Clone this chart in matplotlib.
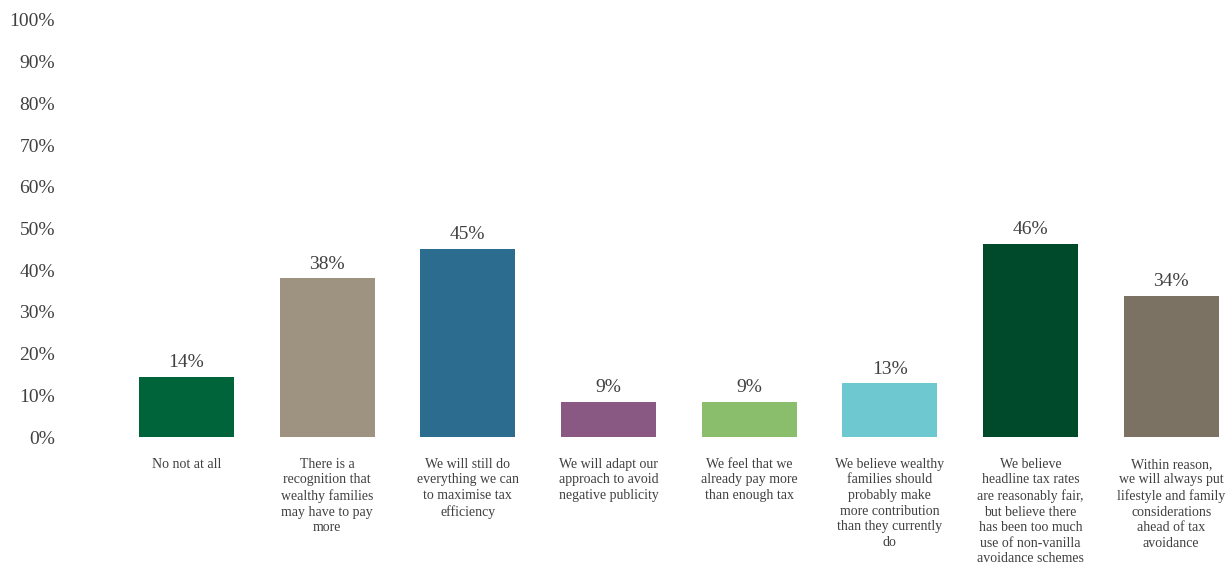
import matplotlib
matplotlib.use("Agg")
import matplotlib.pyplot as plt

categories = [
    "No not at all",
    "There is a\nrecognition that\nwealthy families\nmay have to pay\nmore",
    "We will still do\neverything we can\nto maximise tax\nefficiency",
    "We will adapt our\napproach to avoid\nnegative publicity",
    "We feel that we\nalready pay more\nthan enough tax",
    "We believe wealthy\nfamilies should\nprobably make\nmore contribution\nthan they currently\ndo",
    "We believe\nheadline tax rates\nare reasonably fair,\nbut believe there\nhas been too much\nuse of non-vanilla\navoidance schemes",
    "Within reason,\nwe will always put\nlifestyle and family\nconsiderations\nahead of tax\navoidance",
]
values = [14.4, 38.1, 45.1, 8.4, 8.4, 12.9, 46.3, 33.8]
value_labels = ["14%", "38%", "45%", "9%", "9%", "13%", "46%", "34%"]
colors = ["#00643A", "#9E9380", "#2C6C8E", "#895883", "#8ABD6C", "#6EC8D0", "#004A2C", "#7B7264"]
yticks = list(range(0, 101, 10))
ytick_labels = [f"{t}%" for t in yticks]

font = "Liberation Serif"
tc = "#404040"

fig = plt.figure(figsize=(12.3, 5.64), dpi=100)
ax = fig.add_axes([116/1230, 1 - 437/564, (1230 - 116)/1230, (437 - 20)/564])

x = list(range(len(values)))
ax.bar(x, values, width=0.675, color=colors)
for xi, v, lab in zip(x, values, value_labels):
    ax.annotate(lab, (xi, v), xytext=(0, 4), textcoords="offset points",
                ha="center", va="bottom", fontsize=14, family=font, color=tc)

ax.set_xlim(-0.5, -0.5 + 1114/140.7)
ax.set_ylim(0, 100)
ax.set_yticks(yticks)
ax.set_yticklabels(ytick_labels, family=font, fontsize=14, color=tc)
ax.set_xticks(x)
ax.set_xticklabels(categories, family=font, fontsize=10, color=tc, linespacing=1.26, va="top")
ax.tick_params(axis="y", length=0, pad=44)
ax.tick_params(axis="x", length=0, pad=15)
for s in ax.spines.values():
    s.set_visible(False)

fig.savefig("out.png", dpi=100)
